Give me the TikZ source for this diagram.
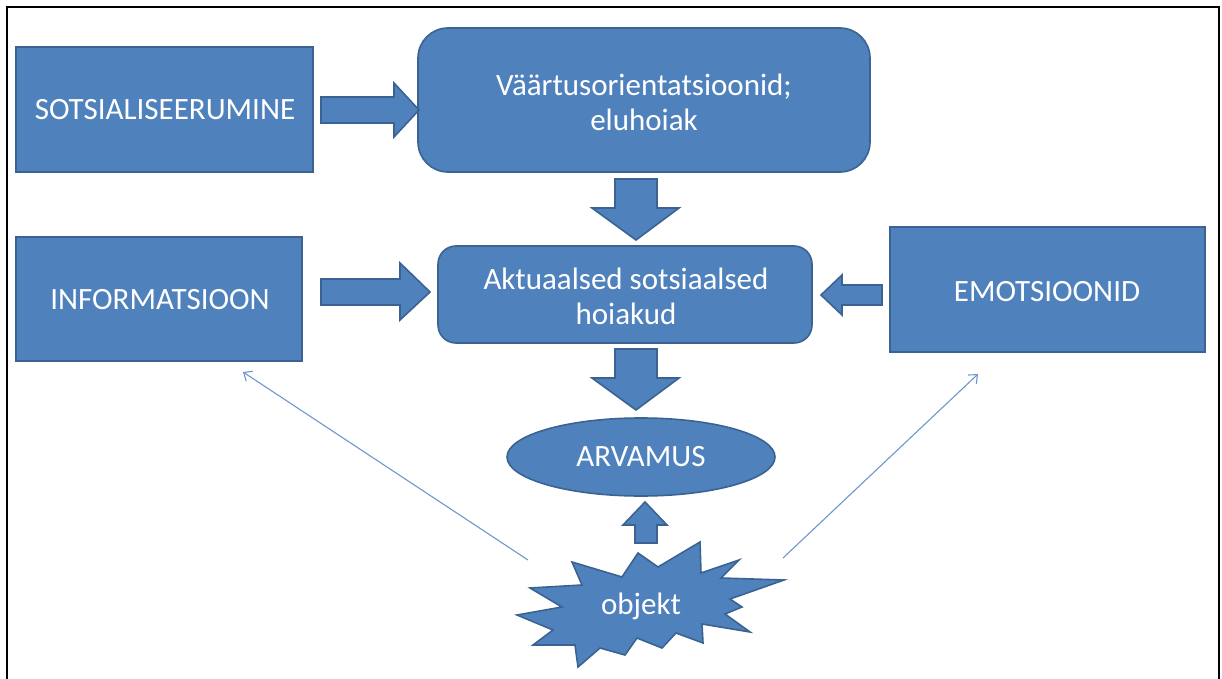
\documentclass[tikz,border=0pt]{standalone}
\usepackage{fontspec}
\setmainfont{Carlito}
\usetikzlibrary{arrows.meta}
\definecolor{boxfill}{HTML}{4F81BD}
\definecolor{boxline}{HTML}{3A6391}
\definecolor{thinblue}{HTML}{6F97CD}
\tikzset{
  bluefig/.style={fill=boxfill,draw=boxline,line width=1.6pt},
  lbl/.style={text=white,font=\fontsize{31}{35}\selectfont,align=center},
  thinarrow/.style={draw=thinblue,line width=1.1pt,-{Straight Barb[length=7pt,width=12pt,line width=1.1pt]}}
}
\begin{document}
\begin{tikzpicture}[x=1pt,y=-1pt]
\useasboundingbox (0,0) rectangle (1222,679);
\fill[white] (0,0) rectangle (1222,679);
\draw[line width=2.6pt] (7,681) -- (7,7) -- (1219,7) -- (1219,681);

% boxes
\draw[bluefig] (16,47) rectangle (313,172);
\node[lbl] (soc) at (165,110) {SOTSIALISEERUMINE};
\draw[bluefig,rounded corners=30pt] (418,28) rectangle (870,172);
\node[lbl] (vaart) at (644,102) {Väärtusorientatsioonid;\\eluhoiak};
\draw[bluefig,rounded corners=18pt] (438,246) rectangle (812,343);
\node[lbl] (akt) at (626,296) {Aktuaalsed sotsiaalsed\\hoiakud};
\draw[bluefig] (16,237) rectangle (302,361);
\node[lbl] (info) at (160,300) {INFORMATSIOON};
\draw[bluefig] (890,227) rectangle (1205,352);
\node[lbl] (emo) at (1047,292) {EMOTSIOONID};
\draw[bluefig] (641,457) ellipse [x radius=134, y radius=39];
\node[lbl] (arv) at (641,457) {ARVAMUS};

% explosion
\draw[bluefig,line join=miter] (638,553) -- (658,567) -- (700,542) -- (701,573) -- (739,560) -- (721,578)
  -- (784,580) -- (730,599) -- (742,607) -- (725,614) -- (750,632) -- (702,624) -- (703,643)
  -- (676,633) -- (662,648) -- (637,638) -- (625,655) -- (600,648) -- (578,667) -- (575,645)
  -- (533,645) -- (553,630) -- (517,615) -- (562,607) -- (530,588) -- (582,585) -- (572,562)
  -- (622,577) -- cycle;
\node[lbl] (obj) at (641,606) {objekt};

% block arrows
\draw[bluefig,line join=miter] (321,97) -- (394,97) -- (394,83) -- (419,110) -- (394,137) -- (394,123) -- (321,123) -- cycle;
\draw[bluefig,line join=miter] (321,279) -- (400,279) -- (400,263) -- (430,292) -- (400,320) -- (400,305) -- (321,305) -- cycle;
\draw[bluefig,line join=miter] (882,285) -- (842,285) -- (842,275) -- (821,295) -- (842,315) -- (842,305) -- (882,305) -- cycle;
\draw[bluefig,line join=miter] (615,179) -- (657,179) -- (657,208) -- (679,208) -- (636,240) -- (592,208) -- (615,208) -- cycle;
\draw[bluefig,line join=miter] (615,349) -- (657,349) -- (657,378) -- (679,378) -- (636,410) -- (592,378) -- (615,378) -- cycle;
\draw[bluefig,line join=miter] (635,543) -- (657,543) -- (657,525) -- (667,525) -- (645,502) -- (623,525) -- (635,525) -- cycle;

% thin arrows
\coordinate (l1) at (528,560);
\coordinate (l2) at (243,372);
\coordinate (r1) at (783,558);
\coordinate (r2) at (978,374);
\draw[thinarrow] (l1) -- (l2);
\draw[thinarrow] (r1) -- (r2);
\end{tikzpicture}
\end{document}
